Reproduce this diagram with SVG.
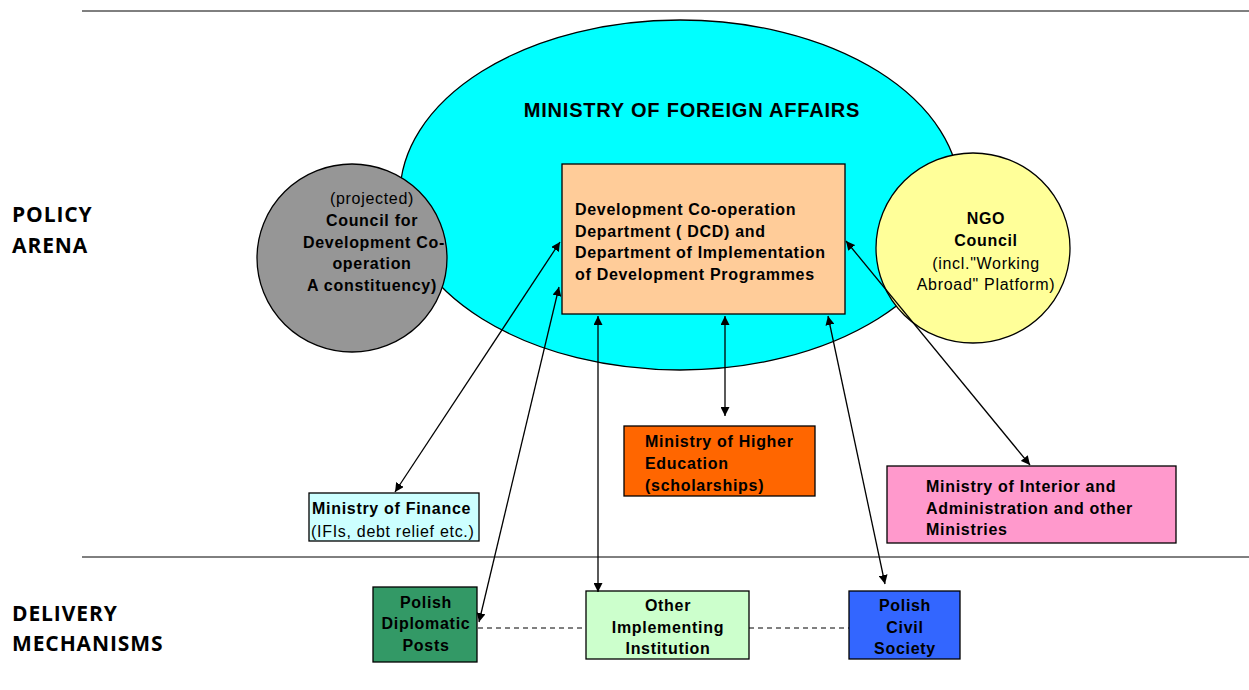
<svg xmlns="http://www.w3.org/2000/svg" width="1249" height="690" viewBox="0 0 1249 690">
<style>
text{font-family:"Liberation Sans",Arial,sans-serif;font-size:16px;letter-spacing:0.7px;fill:#000}
.b{font-weight:bold}
.c{text-anchor:middle}
.lbl{font-family:"Open Sans","Liberation Sans",sans-serif;font-weight:bold;font-size:21px;letter-spacing:0.9px}
.box{stroke:#000;stroke-width:1.3}
.conn{stroke:#000;stroke-width:1.3;fill:none;marker-start:url(#ah);marker-end:url(#ah)}
.dash{stroke:#000;stroke-width:1;stroke-dasharray:5,4;fill:none}
</style>
<defs>
<marker id="ah" viewBox="0 0 10 10" refX="10" refY="5" markerWidth="9" markerHeight="9" markerUnits="userSpaceOnUse" orient="auto-start-reverse">
<path d="M0,0 L10,5 L0,10 z" fill="#000"/>
</marker>
</defs>
<rect width="1249" height="690" fill="#fff"/>
<line x1="82" y1="11" x2="1249" y2="11" stroke="#000" stroke-width="1"/>
<line x1="82" y1="557" x2="1249" y2="557" stroke="#000" stroke-width="1"/>
<g id="label-policy">
<text class="lbl" x="12" y="222">POLICY</text>
<text class="lbl" x="12" y="253">ARENA</text>
</g>
<g id="label-delivery">
<text class="lbl" x="12" y="621">DELIVERY</text>
<text class="lbl" x="12" y="651">MECHANISMS</text>
</g>
<g id="mfa">
<ellipse cx="680" cy="195" rx="280" ry="175" fill="#00FFFF" class="box"/>
<text class="b c" x="692" y="117" style="font-size:20px;letter-spacing:0.8px">MINISTRY OF FOREIGN AFFAIRS</text>
</g>
<g id="council">
<ellipse cx="352" cy="258" rx="95" ry="94" fill="#969696" class="box"/>
<text class="c" x="372" y="204">(projected)</text>
<text class="b c" x="372" y="226">Council for</text>
<text class="b c" x="374" y="248">Development Co-</text>
<text class="b c" x="372" y="269">operation</text>
<text class="b c" x="372" y="291">A constituency)</text>
</g>
<g id="ngo">
<ellipse cx="973" cy="248" rx="97" ry="95" fill="#FFFF99" class="box"/>
<text class="b c" x="986" y="224">NGO</text>
<text class="b c" x="986" y="246">Council</text>
<text class="c" x="986" y="269">(incl."Working</text>
<text class="c" x="986" y="290">Abroad" Platform)</text>
</g>
<g id="dcd">
<rect x="562" y="164" width="283" height="150" fill="#FFCC99" class="box"/>
<text class="b" x="575" y="215">Development Co-operation</text>
<text class="b" x="575" y="237">Department ( DCD) and</text>
<text class="b" x="575" y="258">Department of Implementation</text>
<text class="b" x="575" y="280">of Development Programmes</text>
</g>
<g id="finance">
<rect x="309" y="493" width="170" height="48" fill="#CCFFFF" class="box"/>
<text class="b" x="312" y="514">Ministry of Finance</text>
<text x="311" y="537">(IFIs, debt relief etc.)</text>
</g>
<g id="higher-ed">
<rect x="624" y="426" width="191" height="70" fill="#FF6600" class="box"/>
<text class="b" x="645" y="447">Ministry of Higher</text>
<text class="b" x="645" y="469">Education</text>
<text class="b" x="645" y="491">(scholarships)</text>
</g>
<g id="interior">
<rect x="887" y="466" width="289" height="77" fill="#FF99CC" class="box"/>
<text class="b" x="926" y="492">Ministry of Interior and</text>
<text class="b" x="926" y="514">Administration and other</text>
<text class="b" x="926" y="535">Ministries</text>
</g>
<g id="diplomatic">
<rect x="373" y="587" width="104" height="75" fill="#339966" class="box"/>
<text class="b c" x="426" y="608">Polish</text>
<text class="b c" x="426" y="629">Diplomatic</text>
<text class="b c" x="426" y="651">Posts</text>
</g>
<g id="other">
<rect x="586" y="591" width="163" height="68" fill="#CCFFCC" class="box"/>
<text class="b c" x="668" y="611">Other</text>
<text class="b c" x="668" y="633">Implementing</text>
<text class="b c" x="668" y="654">Institution</text>
</g>
<g id="civil">
<rect x="849" y="591" width="111" height="68" fill="#3366FF" class="box"/>
<text class="b c" x="905" y="611">Polish</text>
<text class="b c" x="905" y="633">Civil</text>
<text class="b c" x="905" y="654">Society</text>
</g>
<g id="connectors">
<line class="conn" x1="560" y1="242" x2="395" y2="492"/>
<line class="conn" x1="559" y1="287" x2="479" y2="622"/>
<line class="conn" x1="598" y1="316" x2="598" y2="592"/>
<line class="conn" x1="725" y1="316" x2="725" y2="416"/>
<line class="conn" x1="828" y1="316" x2="885" y2="584"/>
<line class="conn" x1="846" y1="241" x2="1030" y2="465"/>
<line class="dash" x1="478" y1="628" x2="586" y2="628"/>
<line class="dash" x1="749" y1="628" x2="849" y2="628"/>
</g>
</svg>
